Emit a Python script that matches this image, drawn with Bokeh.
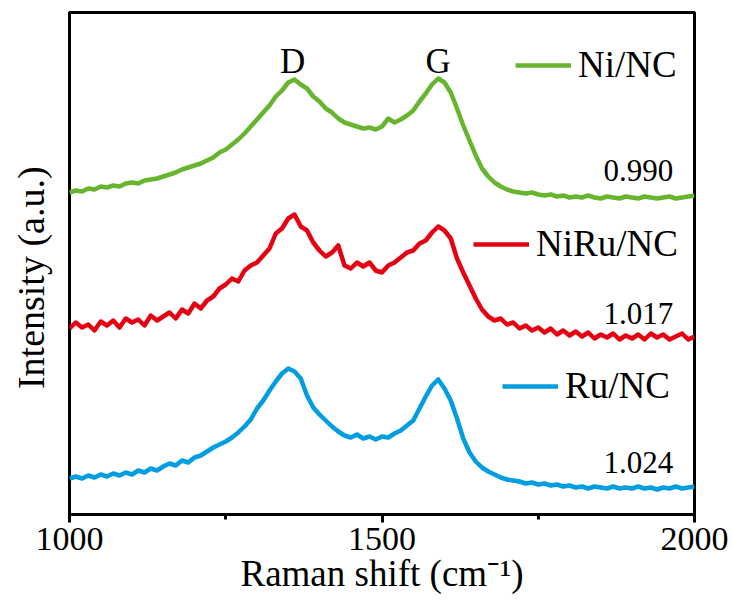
from bokeh.plotting import figure
from bokeh.models import Range1d, FixedTicker, Legend, LegendItem, Label
from bokeh.embed import file_html
from bokeh.resources import INLINE

FONT = "Liberation Serif"

wavenumber = list(range(1000, 2001, 10))

ni_nc = [322, 324, 323, 326, 325, 328, 327, 329, 328, 331,
         332, 331, 334, 335, 336, 338, 340, 342, 345, 347,
         349, 351, 354, 357, 362, 365, 370, 375, 381, 388,
         395, 402, 409, 418, 424, 432, 435, 430, 426, 418,
         413, 406, 402, 396, 392, 390, 388, 386, 387, 385,
         388, 396, 392, 395, 399, 404, 413, 421, 430, 436,
         432, 422, 406, 389, 374, 359, 346, 338, 332, 328,
         325, 323, 322, 321, 322, 320, 319, 320, 318, 319,
         317, 318, 317, 319, 317, 316, 318, 317, 316, 318,
         317, 316, 318, 317, 316, 317, 318, 316, 317, 318,
         319]

niru_nc = [186, 192, 187, 190, 184, 193, 189, 194, 187, 196,
           192, 195, 189, 199, 194, 198, 202, 196, 205, 201,
           211, 206, 214, 218, 226, 230, 236, 233, 244, 249,
           252, 259, 266, 281, 286, 296, 300, 288, 284, 272,
           264, 258, 262, 269, 249, 246, 252, 248, 252, 244,
           242, 249, 252, 257, 262, 264, 271, 274, 282, 288,
           284, 276, 256, 242, 229, 216, 205, 198, 194, 196,
           190, 192, 186, 189, 184, 187, 182, 186, 180, 184,
           179, 183, 178, 182, 176, 180, 177, 181, 175, 179,
           176, 180, 175, 181, 177, 180, 175, 178, 181, 175,
           178]

ru_nc = [36, 38, 36, 39, 37, 40, 38, 41, 39, 42,
         40, 44, 42, 46, 44, 48, 51, 49, 54, 52,
         57, 59, 63, 67, 70, 73, 77, 82, 88, 95,
         106, 114, 124, 133, 141, 146, 143, 136, 119, 107,
         100, 94, 88, 83, 79, 77, 80, 76, 78, 75,
         78, 77, 81, 84, 89, 94, 106, 118, 129, 135,
         126, 114, 96, 76, 62, 53, 47, 43, 40, 37,
         35, 34, 33, 31, 32, 30, 31, 29, 30, 28,
         29, 27, 28, 26, 28, 27, 26, 28, 26, 27,
         26, 28, 26, 27, 25, 27, 26, 28, 26, 27,
         28]

series_names = ["Ni/NC", "NiRu/NC", "Ru/NC"]
series_colors = ["#67B52F", "#E50012", "#009DE0"]
id_ig_ratios = ["0.990", "1.017", "1.024"]
peak_names = ["D", "G"]
peak_positions = [1357, 1590]
x_ticks = [1000, 1500, 2000]
x_minor_ticks = [1250, 1750]
x_title = "Raman shift (cm\u207b\u00b9)"
y_title = "Intensity (a.u.)"

p = figure(width=732, height=608, output_backend="svg", toolbar_location=None,
           x_range=Range1d(1000, 2000), y_range=Range1d(0, 502),
           min_border_left=69, min_border_right=38, min_border_top=12, min_border_bottom=94)
p.background_fill_color = "white"
p.border_fill_color = "white"
p.grid.visible = False
p.outline_line_color = "black"
p.outline_line_width = 3

renderers = []
for ys, col in zip([ni_nc, niru_nc, ru_nc], series_colors):
    r = p.line(wavenumber, ys, line_color=col, line_width=4.5, line_join="round")
    renderers.append(r)

xa = p.xaxis[0]
xa.ticker = FixedTicker(ticks=x_ticks, minor_ticks=x_minor_ticks)
xa.axis_line_width = 3
xa.major_tick_line_width = 3
xa.minor_tick_line_width = 3
xa.major_tick_in = 0
xa.major_tick_out = 8
xa.minor_tick_in = 0
xa.minor_tick_out = 5
xa.major_label_text_font = FONT
xa.major_label_text_font_size = "34px"
xa.major_label_text_color = "black"
xa.major_label_standoff = 5
xa.axis_label = x_title
xa.axis_label_text_font = FONT
xa.axis_label_text_font_size = "37px"
xa.axis_label_text_font_style = "normal"
xa.axis_label_text_color = "black"
xa.axis_label_standoff = 0

ya = p.yaxis[0]
ya.ticker = FixedTicker(ticks=[])
ya.axis_line_color = None
ya.major_tick_line_color = None
ya.minor_tick_line_color = None
ya.major_label_text_font_size = "0px"
# trailing no-break spaces nudge the centred title slightly downwards
ya.axis_label = y_title + "\u00a0\u00a0\u00a0"
ya.axis_label_text_font = FONT
ya.axis_label_text_font_size = "38px"
ya.axis_label_text_font_style = "normal"
ya.axis_label_text_color = "black"
ya.axis_label_standoff = 18

legend_locs = [(446, 428), (404, 249), (433, 107)]
for name, r, loc in zip(series_names, renderers, legend_locs):
    lg = Legend(items=[LegendItem(label=name, renderers=[r])], location=loc,
                background_fill_alpha=0, border_line_color=None,
                padding=0, margin=0, spacing=0,
                glyph_width=56, glyph_height=40, label_height=40,
                label_standoff=7,
                label_text_font=FONT, label_text_font_size="37px",
                label_text_color="black")
    p.add_layout(lg, "center")

ratio_y = [344, 201, 52]
for txt, yy in zip(id_ig_ratios, ratio_y):
    p.add_layout(Label(x=1966, y=yy, text=txt, text_align="right",
                       text_baseline="alphabetic", text_font=FONT,
                       text_font_size="31px", text_color="black"))

for txt, xx in zip(peak_names, peak_positions):
    p.add_layout(Label(x=xx, y=453, text=txt, text_align="center",
                       text_baseline="alphabetic", text_font=FONT,
                       text_font_size="35px", text_color="black"))

open("out.html", "w").write(file_html(p, INLINE))
